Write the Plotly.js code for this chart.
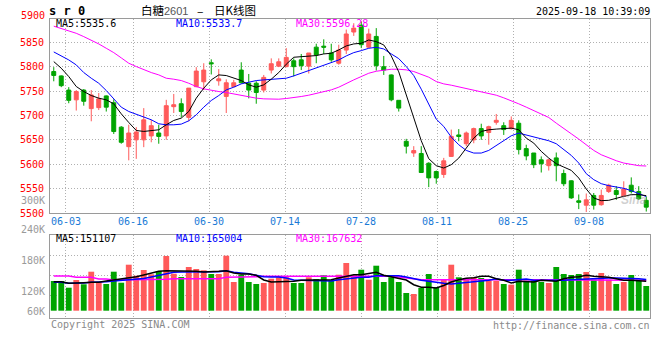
<!DOCTYPE html>
<html><head><meta charset="utf-8">
<script src="https://cdn.plot.ly/plotly-3.0.1.min.js"></script>
<style>html,body{margin:0;padding:0;background:#fff}#c{width:660px;height:360px}</style>
</head><body><div id="c"></div>
<script>
// ---- data ----
const dates = ['05-29','05-30','06-03','06-04','06-05','06-06','06-09','06-10','06-11','06-12','06-13','06-16','06-17','06-18','06-19','06-20','06-23','06-24','06-25','06-26','06-27','06-30','07-01','07-02','07-03','07-04','07-07','07-08','07-09','07-10','07-11','07-14','07-15','07-16','07-17','07-18','07-21','07-22','07-23','07-24','07-25','07-28','07-29','07-30','07-31','08-01','08-04','08-05','08-06','08-07','08-08','08-11','08-12','08-13','08-14','08-15','08-18','08-19','08-20','08-21','08-22','08-25','08-26','08-27','08-28','08-29','09-01','09-02','09-03','09-04','09-05','09-08','09-09','09-10','09-11','09-12','09-15','09-16','09-17','09-18'];
const openP  = [5790,5781,5752,5732,5752,5714,5716,5740,5726,5676,5636,5650,5650,5658,5664,5658,5718,5724,5696,5759,5769,5808,5771,5739,5759,5793,5766,5766,5752,5793,5801,5800,5812,5814,5801,5840,5842,5828,5807,5834,5871,5885,5840,5862,5800,5783,5731,5647,5623,5622,5602,5585,5579,5616,5660,5642,5650,5673,5665,5686,5679,5673,5684,5632,5623,5609,5597,5613,5581,5566,5525,5516,5536,5517,5544,5546,5534,5557,5544,5526];
const highP  = [5799,5782,5758,5752,5754,5752,5746,5741,5733,5678,5681,5676,5715,5691,5681,5732,5744,5735,5756,5799,5807,5815,5795,5774,5773,5809,5785,5770,5783,5817,5817,5838,5817,5826,5828,5847,5856,5847,5845,5876,5889,5893,5878,5879,5822,5784,5731,5652,5637,5637,5604,5587,5613,5671,5672,5667,5675,5683,5679,5703,5686,5698,5690,5640,5623,5616,5611,5624,5589,5567,5538,5540,5541,5548,5560,5555,5565,5573,5555,5534];
const lowP   = [5770,5758,5725,5710,5720,5688,5711,5708,5662,5642,5608,5611,5635,5645,5642,5650,5705,5696,5688,5758,5752,5784,5761,5705,5758,5765,5735,5724,5747,5786,5799,5799,5780,5793,5786,5807,5826,5810,5804,5826,5863,5838,5838,5792,5783,5729,5708,5622,5615,5582,5553,5560,5572,5615,5647,5637,5643,5650,5640,5681,5660,5671,5620,5608,5592,5583,5587,5565,5555,5529,5508,5502,5507,5515,5541,5527,5533,5540,5527,5503];
const closeP = [5782,5761,5731,5749,5729,5742,5734,5717,5667,5645,5664,5666,5691,5679,5657,5720,5722,5708,5756,5791,5793,5806,5775,5767,5767,5767,5752,5747,5778,5806,5810,5819,5800,5802,5828,5824,5840,5814,5834,5867,5879,5845,5867,5802,5793,5732,5715,5637,5628,5583,5572,5572,5607,5657,5657,5664,5673,5658,5677,5690,5671,5690,5630,5617,5599,5601,5609,5597,5560,5531,5522,5527,5516,5536,5557,5538,5549,5544,5529,5512];
const ma5  = [5810.4,5796.8,5779.7,5759.3,5749,5740.8,5735.4,5732,5723.8,5703.3,5685.6,5669.2,5667.2,5668.5,5670.6,5680.8,5689.7,5694.5,5708.1,5735.4,5755.8,5772.9,5783.1,5781.8,5776.3,5771.5,5762.7,5757.9,5762.7,5774.3,5787.9,5805,5819.3,5820.6,5820.6,5822.7,5826.1,5827.5,5834.3,5842.5,5846.6,5847.9,5854.7,5851.3,5844.5,5822,5789.3,5742.2,5694.5,5648.1,5611.3,5597,5592.2,5599,5612.6,5633.1,5653.5,5667.2,5670.6,5672,5672.6,5674,5670.6,5653.5,5643.3,5626.3,5612.6,5601,5594.2,5587.4,5571.7,5549.2,5530.8,5525.3,5526,5530.8,5534.2,5537.6,5537.6,5535.6];
const ma10 = [5830.2,5822.7,5813.8,5803.6,5787.9,5776.3,5766,5751.1,5733.3,5717,5708.1,5702.7,5697.9,5691.1,5682.9,5680.8,5680.8,5682.2,5689,5701.3,5717,5730.6,5740.8,5752.4,5757.9,5764.7,5768.1,5771.5,5772.9,5774.3,5776.3,5776.3,5781.1,5786.5,5790.6,5796.8,5801.5,5807,5813.8,5822,5828.8,5832.9,5837.7,5839.7,5836.3,5826.1,5816.5,5800.2,5781.8,5753.8,5723.8,5692.4,5677.4,5655.6,5639.9,5628.3,5622.9,5622.9,5628.3,5638.5,5648.8,5658.3,5663.8,5659.7,5655.6,5652.2,5648.1,5642,5631,5618.1,5602.4,5580.6,5568.3,5560.1,5556,5553.3,5550.6,5545.8,5539.7,5533.7];
const ma30 = [5883,5878,5873.8,5868.4,5861.6,5854.7,5846.6,5837.7,5828.8,5818,5807,5800.2,5793.4,5787.9,5783.1,5776.3,5774.3,5771.5,5766,5759.3,5754.5,5751.1,5749,5747,5744.3,5740.2,5737.4,5735.4,5734,5733.3,5733.3,5734.7,5736.1,5738.8,5741.5,5745,5749,5752.4,5757.9,5766,5772.9,5779.7,5786.5,5790.6,5793.4,5794.7,5794.7,5793.4,5790,5784.5,5778.4,5769.5,5764.7,5762,5758.6,5755.2,5752.4,5749.7,5746.3,5741.5,5736.1,5730.6,5723.8,5717,5710.2,5703.3,5695.8,5684.2,5674,5662.4,5651.5,5639.9,5628.3,5619.4,5612.6,5607.2,5602.4,5599.7,5597,5596.3];
const volume = [163400,163400,126500,168900,145200,214500,156200,146900,214500,154000,253000,192500,223900,200200,218400,300900,203500,185400,240400,229400,222200,201900,201900,302500,157900,198000,157900,146900,152400,176000,183700,183700,152400,152400,183700,174400,194700,166000,198000,262400,194700,225500,170500,247500,157900,183700,157900,97400,91900,124900,201900,128700,170500,253000,183700,176000,183700,179900,165000,165000,146900,143200,225500,165000,165000,157900,152400,240400,201900,196400,201900,212900,170500,207400,170500,146900,157900,196400,170500,135900];
const volMa5  = [159500,159500,150700,150700,154000,156200,156200,163400,168900,178200,183700,187000,196400,205700,216700,220000,220000,220000,218400,216700,212900,212900,216700,220000,207400,201900,201900,194700,168900,157900,157900,159500,161700,167200,167200,170500,170500,170500,179900,189200,198000,198000,205700,211200,194700,187000,178200,168900,143000,128700,128700,124900,138600,157900,170500,178200,181500,189200,189200,176000,167200,152400,161700,159500,157900,167200,165000,161700,176000,183700,187000,194700,189200,187000,183700,176000,167200,167200,163400,161700];
const volMa10 = [156200,156200,150700,150700,152400,156200,156200,159500,163400,166000,168900,172700,177000,185400,193600,201900,211200,212900,212900,216700,216700,212900,214500,220000,211200,207400,203500,194700,187000,185400,185400,179900,168900,167200,167200,165000,165000,163400,170500,176000,181500,183700,183700,192500,192500,192500,192500,185400,174400,167200,161700,155000,150700,146900,150700,152400,156200,160600,167200,176000,167200,167200,172700,174400,167200,167200,163400,165000,167200,170500,172700,176000,178200,179900,179900,179900,179900,178200,176000,171600];
const volMa30 = [190900,190900,190900,183700,183700,183700,174400,174400,168900,168900,168900,172700,172700,172700,172700,172700,176000,176000,176000,176000,176000,176000,176000,183700,183700,183700,183700,187000,189200,189200,189200,189200,189200,189200,189200,189200,189200,189200,192500,192500,192500,192500,192500,192500,192500,189200,185400,179900,174400,170500,170500,170500,170500,170500,170500,170500,170500,170500,170500,168900,167200,167200,167200,167200,167200,167200,167200,168000,168000,168000,168000,168000,168000,168000,168000,168000,168000,168000,168000,168000];
const dateLabels = ['06-03','06-16','06-30','07-14','07-28','08-11','08-25','09-08'];
const priceTicks = [5500,5550,5600,5650,5700,5750,5800,5850];
const volLabels = ['300K','240K','180K','120K','60K'];
const maTexts = ['MA5:5535.6','MA10:5533.7','MA30:5596.28'];
const volMaTexts = ['MA5:151107','MA10:165004','MA30:167632'];
const titleParts = ['白糖', '2601', '–', '日K线图'];

// ---- styling / layout ----
const W = 660, H = 360;
const RED = '#ff5a5a', GREEN = '#00a400';
const MONO = 'DejaVu Sans Mono, Liberation Mono, monospace';
const CJK = 'Noto Sans CJK SC';
const px = x => x / W, py = y => 1 - y / H;
const xs = dates.map((d, i) => i);
const gridX = [1.54, 10.61, 20.74, 30.87, 41.0, 51.14, 61.27, 71.41];
const gridPx = [65.3, 133.3, 209.3, 285.3, 361.3, 437.3, 513.3, 589.3];

const traces = [
  {type:'candlestick', x:xs, open:openP, high:highP, low:lowP, close:closeP, xaxis:'x', yaxis:'y',
   increasing:{line:{color:RED, width:1}, fillcolor:RED},
   decreasing:{line:{color:GREEN, width:1}, fillcolor:GREEN}, whiskerwidth:0, hoverinfo:'skip'},
  {type:'scatter', mode:'lines', x:xs, y:ma30, line:{color:'#ff00ff', width:1}, xaxis:'x', yaxis:'y'},
  {type:'scatter', mode:'lines', x:xs, y:ma10, line:{color:'#0000ff', width:1}, xaxis:'x', yaxis:'y'},
  {type:'scatter', mode:'lines', x:xs, y:ma5, line:{color:'#000000', width:1}, xaxis:'x', yaxis:'y'},
  {type:'bar', x:xs, y:volume, xaxis:'x2', yaxis:'y2',
   marker:{color: closeP.map((c, i) => c >= openP[i] ? RED : GREEN), line:{width:0}}},
  {type:'scatter', mode:'lines', x:xs, y:volMa30, line:{color:'#ff00ff', width:1.5}, xaxis:'x2', yaxis:'y2'},
  {type:'scatter', mode:'lines', x:xs, y:volMa10, line:{color:'#0000ff', width:1.5}, xaxis:'x2', yaxis:'y2'},
  {type:'scatter', mode:'lines', x:xs, y:volMa5, line:{color:'#000000', width:1.5}, xaxis:'x2', yaxis:'y2'}
];

const gridStyle = {showgrid:true, gridcolor:'#b0b0b0', griddash:'1px,2px', gridwidth:1,
  showline:true, mirror:true, linecolor:'#9a9a9a', linewidth:1, zeroline:false, fixedrange:true};

const ann = [];
const A = (text, x, y, xanchor, color, size, family) => ann.push({
  text, xref:'paper', yref:'paper', x:px(x), y:py(y), xanchor, yanchor:'middle', showarrow:false,
  font:{family:family || MONO, size:size, color:color}, borderpad:0});

A(titleParts[0], 140, 10, 'left', '#000', 11.5, CJK);
A(titleParts[1], 163, 10.5, 'left', '#555', 11, 'Liberation Sans');
A(titleParts[2], 200, 10, 'center', '#000', 12, CJK);
A(titleParts[3], 213, 10, 'left', '#000', 11.5, CJK);
A('<b>s r 0</b>', 48, 11, 'left', '#000', 12);
A('2025-09-18 10:39:09', 651, 12, 'right', '#000', 10);
A('5900', 46, 16, 'right', '#ff0000', 10);
[55, 175, 295].forEach((x, k) => A(maTexts[k], x, 23.5, 'left', ['#000','#0000ff','#ff00ff'][k], 10));
[55, 175, 295].forEach((x, k) => A(volMaTexts[k], x, 238.5, 'left', ['#000','#0000ff','#ff00ff'][k], 10));
dateLabels.forEach((t, k) => A(t, k === 0 ? 50 : gridPx[k], 221, k === 0 ? 'left' : 'center', '#1a7ad6', 10));
[200, 230, 260.5, 291.5, 311].forEach((y, k) => A(volLabels[k], 46, y, 'right', '#9a9a9a', 10));
A('Copyright 2025 SINA.COM', 50, 324.5, 'left', '#8a8a8a', 10);
A('http://finance.sina.com.cn', 651, 325, 'right', '#8a8a8a', 10);
A('<b><i>Sina</i></b>', 634, 200, 'center', 'rgba(150,150,150,0.45)', 12, 'Liberation Sans');

const layout = {
  width:W, height:H, margin:{l:0, r:0, t:0, b:0}, paper_bgcolor:'#fff', plot_bgcolor:'#fff',
  showlegend:false, bargap:0.22, boxgap:0.25,
  xaxis: Object.assign({}, gridStyle, {domain:[px(50), px(650)], range:[-0.5, 79.5], anchor:'y',
    tickmode:'array', tickvals:gridX, showticklabels:false, ticks:'', rangeslider:{visible:false}}),
  yaxis: Object.assign({}, gridStyle, {domain:[py(213), py(19)], range:[5500, 5897.7], anchor:'x',
    tickmode:'array', tickvals:priceTicks, ticks:'', ticklabelstandoff:3,
    tickfont:{family:MONO, size:10, color:'#ff0000'}}),
  xaxis2: Object.assign({}, gridStyle, {domain:[px(50), px(650)], range:[-0.5, 79.5], anchor:'y2',
    tickmode:'array', tickvals:gridX, showticklabels:false, ticks:''}),
  yaxis2: Object.assign({}, gridStyle, {domain:[py(318), py(235)], range:[-40150, 416350], anchor:'x2',
    tickmode:'array', tickvals:[84700, 194700, 304700], showticklabels:false, ticks:''}),
  annotations: ann
};
Plotly.newPlot('c', traces, layout, {staticPlot:true, displayModeBar:false});
</script></body></html>
